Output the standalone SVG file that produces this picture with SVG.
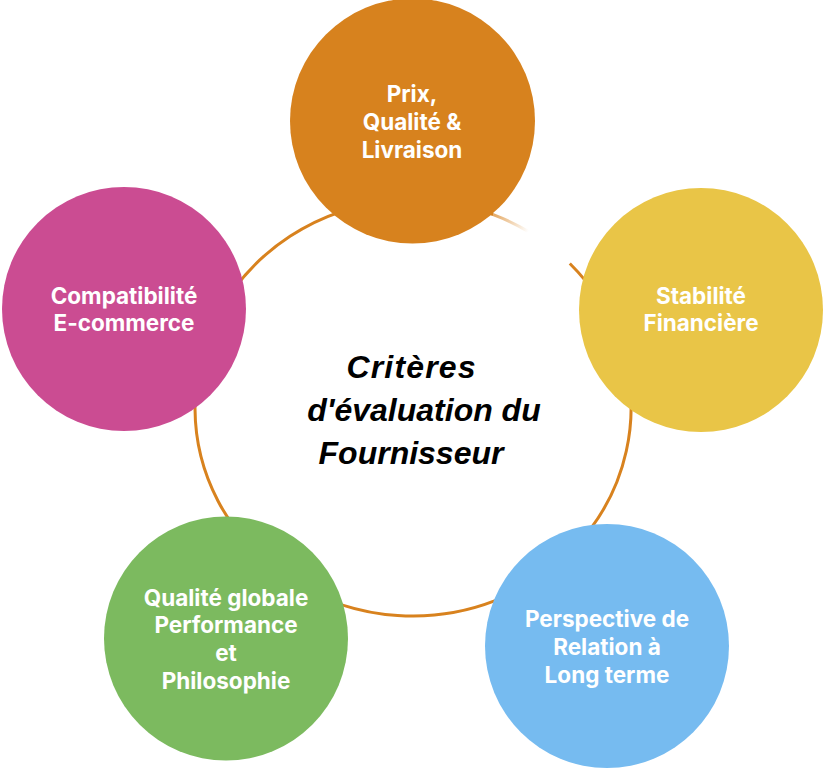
<svg xmlns="http://www.w3.org/2000/svg" width="827" height="768" viewBox="0 0 827 768">
<defs>
<style>
.ring{fill:none;stroke:#D8821E;stroke-width:3}
.lbl{font-family:Inter,"Liberation Sans",sans-serif;font-weight:700;font-size:22.5px;fill:#FFFFFF;text-anchor:middle}
.ttl{font-family:"Liberation Sans",Arial,sans-serif;font-weight:700;font-style:italic;font-size:32px;fill:#000000;text-anchor:middle}
</style>
<linearGradient id="fade" gradientUnits="userSpaceOnUse" x1="493" y1="214" x2="528" y2="232">
<stop offset="0" stop-color="#D8821E" stop-opacity="0.7"/>
<stop offset="1" stop-color="#D8821E" stop-opacity="0"/>
</linearGradient>
</defs>
<rect width="827" height="768" fill="#FFFFFF"/>
<g id="connectors">
<path class="ring" d="M 569.8 263.5 A 218 208 0 1 1 493.2 214.6"/>
<path d="M 493.2 214.6 A 218 208 0 0 1 528.5 231.6" fill="none" stroke="url(#fade)" stroke-width="3"/>
</g>
<g id="center">
<text class="ttl" x="411" y="378" textLength="129" lengthAdjust="spacing">Critères</text>
<text class="ttl" x="424" y="421">d'évaluation du</text>
<text class="ttl" x="411" y="464">Fournisseur</text>
</g>
<g id="prix">
<circle cx="412.5" cy="121" r="122.5" fill="#D7821E"/>
<text class="lbl" x="412" y="102">Prix,</text>
<text class="lbl" x="412" y="130">Qualité &amp;</text>
<text class="lbl" x="412" y="158">Livraison</text>
</g>
<g id="stabilite">
<circle cx="701" cy="310" r="122" fill="#E9C547"/>
<text class="lbl" x="701" y="304">Stabilité</text>
<text class="lbl" x="701" y="331">Financière</text>
</g>
<g id="perspective">
<circle cx="607" cy="646" r="122" fill="#76BBF0"/>
<text class="lbl" x="607" y="627">Perspective de</text>
<text class="lbl" x="607" y="655">Relation à</text>
<text class="lbl" x="607" y="683">Long terme</text>
</g>
<g id="qualite">
<circle cx="226" cy="638.5" r="122" fill="#7CBA5F"/>
<text class="lbl" x="226" y="606">Qualité globale</text>
<text class="lbl" x="226" y="633">Performance</text>
<text class="lbl" x="226" y="661">et</text>
<text class="lbl" x="226" y="689">Philosophie</text>
</g>
<g id="compatibilite">
<circle cx="124" cy="309" r="122" fill="#CB4C92"/>
<text class="lbl" x="124" y="304">Compatibilité</text>
<text class="lbl" x="124" y="331">E-commerce</text>
</g>
</svg>
